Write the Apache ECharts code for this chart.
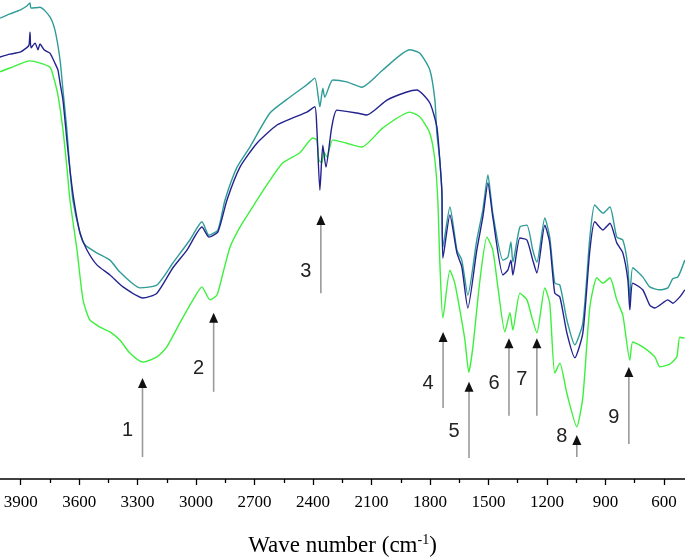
<!DOCTYPE html>
<html>
<head>
<meta charset="utf-8">
<script src="https://cdn.jsdelivr.net/npm/echarts@6/dist/echarts.min.js"></script>
<style>
html,body{margin:0;padding:0;background:#fff;}
#chart{width:685px;height:560px;}
</style>
</head>
<body>
<div id="chart"></div>
<script>
// Wavenumber (cm^-1) / relative transmittance (a.u.)
var tealWn = [4006,3955,3904,3870,3852,3847,3801,3750,3724,3698,3683,3663,3647,3632,3596,3570,3509,3442,3391,3288,3201,3119,3032,2970,2934,2888,2852,2790,2724,2621,2519,2432,2391,2365,2350,2340,2299,2227,2150,2042,1904,1852,1801,1775,1765,1750,1739,1734,1698,1662,1637,1606,1560,1529,1503,1478,1426,1401,1385,1375,1339,1303,1273,1252,1211,1186,1160,1134,1098,1057,1016,980,955,913,877,842,811,785,775,760,709,673,621,580,555,528,493];
var tealT  = [96.2,97.1,97.9,98.7,99.4,98.3,98.5,96.5,93.7,87.5,81.2,72.9,64.5,58.2,51.4,48.9,47.2,45.7,43.2,39.9,40.5,45.1,49.9,53.7,50.9,52.0,58.2,65.1,69.3,76.4,79.7,82.3,83.7,77.7,81.6,79.7,83.3,82.9,81.8,85.4,89.6,88.9,85.4,79.1,72.2,66.6,59.7,48.4,56.8,47.8,45.7,38.4,49.9,56.2,63.5,55.5,45.7,46.3,49.5,45.3,52.6,53.0,47.8,45.3,54.5,50.5,40.9,40.5,33.2,28.0,32.6,50.5,57.2,55.5,56.8,50.5,49.9,44.3,37.4,44.1,42.2,40.1,39.5,39.9,41.8,42.2,45.7];

var navyWn = [4006,3955,3904,3870,3857,3852,3847,3826,3811,3801,3780,3750,3724,3709,3698,3683,3663,3647,3627,3596,3560,3509,3442,3375,3273,3201,3119,3047,2970,2934,2888,2842,2775,2688,2585,2504,2432,2391,2381,2365,2350,2334,2304,2278,2175,2124,2021,1919,1868,1801,1765,1750,1739,1734,1698,1662,1637,1606,1560,1529,1503,1478,1426,1401,1385,1375,1339,1303,1273,1252,1211,1186,1160,1134,1098,1057,1016,980,955,913,877,842,811,785,775,760,709,673,647,621,580,555,519,493];
var navyT  = [88.1,88.7,89.1,90.0,90.6,93.3,90.0,91.0,89.6,90.8,89.6,88.9,86.8,85.4,82.7,79.1,70.8,64.5,58.2,51.4,47.8,44.7,42.6,40.1,37.8,38.8,44.1,47.8,52.6,50.5,51.6,58.2,65.1,70.1,73.9,75.4,76.6,77.7,73.5,60.3,69.7,65.1,73.5,77.0,76.4,76.0,79.1,80.8,81.2,78.5,73.5,66.6,59.7,46.1,55.1,47.2,44.3,35.7,47.8,54.7,61.8,54.7,42.6,43.6,45.7,42.6,50.3,49.9,45.7,43.0,53.0,49.3,38.8,38.0,30.5,25.3,30.5,47.8,53.7,52.0,53.4,49.3,47.2,41.5,35.3,40.9,39.5,36.3,35.7,36.3,37.4,36.7,38.0,39.5];

var greenWn = [4006,3955,3852,3750,3734,3709,3683,3663,3647,3611,3580,3545,3493,3442,3391,3340,3273,3201,3150,3083,3016,2970,2929,2893,2862,2826,2775,2688,2637,2555,2468,2401,2381,2370,2355,2345,2329,2299,2227,2150,2042,1904,1852,1801,1775,1760,1750,1734,1698,1673,1647,1621,1601,1580,1544,1508,1478,1452,1416,1390,1375,1339,1303,1278,1252,1211,1186,1160,1134,1098,1047,1016,980,944,913,877,842,811,775,760,709,647,621,570,534,519,493];
var greenT  = [85.0,85.8,87.3,86.0,84.3,80.2,72.9,65.1,58.2,47.8,37.4,33.2,31.7,30.7,29.0,26.3,24.4,25.5,27.6,32.6,37.4,40.1,37.4,38.4,43.0,48.4,52.6,58.2,61.4,66.0,68.1,71.2,70.8,66.6,66.0,68.3,67.2,70.8,70.1,69.3,73.3,76.6,75.6,72.2,66.6,58.2,45.7,33.6,43.6,40.9,35.3,29.0,22.3,27.6,41.5,50.5,47.8,40.1,30.7,34.7,31.1,38.8,37.4,33.8,30.5,39.9,36.7,22.1,24.2,17.9,10.9,17.1,35.9,42.0,40.9,42.0,37.4,34.2,24.8,28.6,27.6,25.5,23.4,24.0,25.5,29.6,29.4];

// Band annotations: label, wavenumber, arrow foot, arrow tip, label height
var bandLabels = ['1','2','3','4','5','6','7','8','9'];
var bandWn     = [3275,2910,2360,1733,1600,1395,1252,1047,780];
var arrowFoot  = [4.6,18.2,38.8,14.8,4.4,13.2,13.2,4.6,7.3];
var arrowTip   = [21.1,34.7,55.1,30.7,20.3,29.4,29.4,9.2,23.4];
var labelT     = [10.2,23.0,43.4,20.0,10.0,20.0,20.7,8.8,12.9];

var majorTicks = [3900,3600,3300,3000,2700,2400,2100,1800,1500,1200,900,600];
var minorTicks = [3750,3450,3150,2850,2550,2250,1950,1650,1350,1050,750];

function zip(a,b){ return a.map(function(v,i){ return [v,b[i]]; }); }

var arrowData = bandWn.map(function(w,i){ return [w, arrowFoot[i], arrowTip[i], labelT[i]]; });

var chart = echarts.init(document.getElementById('chart'), null, {renderer:'canvas'});
var serif = '"Liberation Serif","Times New Roman",serif';
var xMin = 492, xMax = 4006;

chart.setOption({
  animation:false,
  backgroundColor:'#fff',
  grid:{left:0,right:0,top:0,bottom:81,outerBoundsMode:'none',containLabel:false},
  xAxis:[{
    type:'value', inverse:true, min:xMin, max:xMax,
    axisLine:{show:true,lineStyle:{color:'#000',width:1.5}},
    axisTick:{show:true,customValues:majorTicks,length:6,lineStyle:{color:'#000',width:1.3}},
    axisLabel:{show:true,customValues:majorTicks,margin:15,fontFamily:serif,fontSize:17,color:'#000',
      formatter:function(v){ return String(v); }},
    splitLine:{show:false},
    name:'Wave number (cm{sup|-1})',
    nameLocation:'middle', nameGap:54,
    nameTextStyle:{fontFamily:serif,fontSize:23,color:'#000',
      rich:{sup:{fontFamily:serif,fontSize:14,color:'#000',padding:[0,0,11,0]}}}
  },{
    type:'value', inverse:true, min:xMin, max:xMax, position:'bottom',
    axisLine:{show:false},
    axisTick:{show:true,customValues:minorTicks,length:4,lineStyle:{color:'#000',width:1.3}},
    axisLabel:{show:false},
    splitLine:{show:false}
  }],
  yAxis:{type:'value',min:0,max:100,show:false},
  series:[
    {type:'line',name:'teal',data:zip(tealWn,tealT),showSymbol:false,smooth:0.2,
     lineStyle:{color:'#2f9c98',width:1.4},z:3},
    {type:'line',name:'navy',data:zip(navyWn,navyT),showSymbol:false,smooth:0.2,
     lineStyle:{color:'#23238f',width:1.4},z:4},
    {type:'line',name:'green',data:zip(greenWn,greenT),showSymbol:false,smooth:0.2,
     lineStyle:{color:'#3cf03c',width:1.4},z:2},
    {type:'custom',name:'bands',data:arrowData,z:5,
     renderItem:function(params,api){
       var foot = api.coord([api.value(0),api.value(1)]);
       var tip = api.coord([api.value(0),api.value(2)]);
       var lab = api.coord([api.value(0),api.value(3)]);
       var headH = 10, headW = 4.5;
       return {type:'group',children:[
         {type:'line',shape:{x1:foot[0],y1:foot[1],x2:tip[0],y2:tip[1]+headH-1},
          style:{stroke:'#9a9a9a',lineWidth:1.6}},
         {type:'polygon',shape:{points:[[tip[0],tip[1]],[tip[0]-headW,tip[1]+headH],[tip[0]+headW,tip[1]+headH]]},
          style:{fill:'#111'}},
         {type:'text',style:{text:bandLabels[params.dataIndex],x:lab[0]-15,y:lab[1],
          align:'center',verticalAlign:'middle',fontSize:20,
          fontFamily:'"Liberation Sans",Arial,sans-serif',fill:'#222'}}
       ]};
     }}
  ]
});
</script>
</body>
</html>
